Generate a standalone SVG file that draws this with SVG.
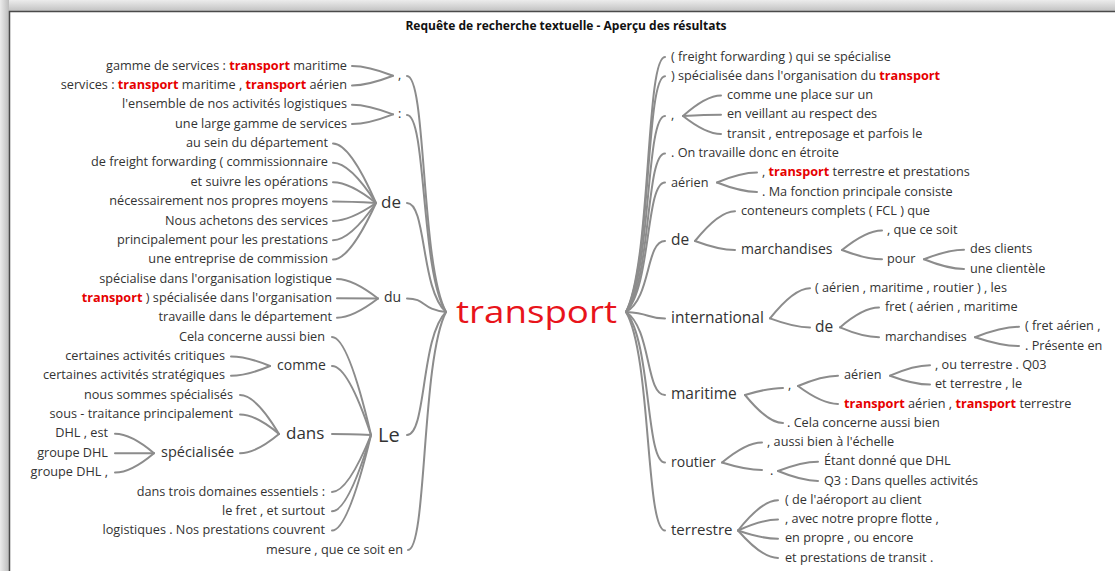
<svg xmlns="http://www.w3.org/2000/svg" width="1115" height="571" viewBox="0 0 1115 571">
<defs>
<linearGradient id="gTop" x1="0" y1="0" x2="0" y2="1"><stop offset="0" stop-color="#ececec"/><stop offset="1" stop-color="#c2c2c2"/></linearGradient>
<linearGradient id="gLeft" x1="0" y1="0" x2="1" y2="0"><stop offset="0" stop-color="#ececec"/><stop offset="1" stop-color="#bcbcbc"/></linearGradient>
<style>
text{font-family:"Open Sans","Liberation Sans",sans-serif;font-size:12.7px;fill:#333}
.l{text-anchor:end}
.hl{font-weight:700;fill:#e60000}
.title{font-weight:700;font-size:12px;fill:#111;text-anchor:middle}
.root{font-size:31px;fill:#e8141b}
.c path{fill:none;stroke:#8c8c8c;stroke-width:2;stroke-linecap:round}
</style>
</defs>
<rect width="1115" height="571" fill="#fff"/>
<rect x="0" y="0" width="1115" height="11" fill="url(#gTop)"/>
<rect x="0" y="0" width="9" height="571" fill="url(#gLeft)"/>
<path d="M9.5,571 V11.5 H1115" fill="none" stroke="#4a4a4a" stroke-width="1.5"/>
<text class="title" x="566" y="30">Requête de recherche textuelle - Aperçu des résultats</text>

<g id="connectors" class="c">
<path d="M352,66 Q368,66 393,75.7"/>
<path d="M352,85.4 Q368,85.4 393,75.7"/>
<path d="M352,104.7 Q368,104.7 393,114.4"/>
<path d="M352,124.1 Q368,124.1 393,114.4"/>
<path d="M333,143.4 Q350,143.4 376,203"/>
<path d="M333,162.8 Q350,162.8 376,203"/>
<path d="M333,182.2 Q350,182.2 376,203"/>
<path d="M333,201.5 Q350,201.5 376,203"/>
<path d="M333,220.9 Q350,220.9 376,203"/>
<path d="M333,240.2 Q350,240.2 376,203"/>
<path d="M333,259.6 Q350,259.6 376,203"/>
<path d="M337,279 Q353,279 378,298.5"/>
<path d="M337,298.3 Q353,298.3 378,298.5"/>
<path d="M337,317.7 Q353,317.7 378,298.5"/>
<path d="M231,356.4 Q247,356.4 270,366"/>
<path d="M231,375.8 Q247,375.8 270,366"/>
<path d="M115,433.8 Q131,433.8 154,453.2"/>
<path d="M115,453.2 Q131,453.2 154,453.2"/>
<path d="M115,472.6 Q131,472.6 154,453.2"/>
<path d="M240,395.1 Q256,395.1 279,434"/>
<path d="M240,414.5 Q256,414.5 279,434"/>
<path d="M240,453.2 Q256,453.2 279,434"/>
<path d="M332,337 Q348,337 371,435"/>
<path d="M332,366 Q348,366 371,435"/>
<path d="M332,434 Q348,434 371,435"/>
<path d="M332,491.9 Q348,491.9 371,435"/>
<path d="M332,511.3 Q348,511.3 371,435"/>
<path d="M332,530.6 Q348,530.6 371,435"/>
<path d="M407,76 C426.5,76 420.7,264.8 446,312"/>
<path d="M407,115 C426.5,115 420.7,272.6 446,312"/>
<path d="M407,203 C426.5,203 420.7,290.2 446,312"/>
<path d="M407,298.5 C426.5,298.5 420.7,309.3 446,312"/>
<path d="M407,435 C426.5,435 420.7,336.6 446,312"/>
<path d="M408,550 C427,550 421.3,359.6 446,312"/>
<path d="M665,57 C645.5,57 651.4,261 626,312"/>
<path d="M665,76.3 C645.5,76.3 651.4,264.9 626,312"/>
<path d="M665,116 C645.5,116 651.4,272.8 626,312"/>
<path d="M665,153.4 C645.5,153.4 651.4,280.3 626,312"/>
<path d="M665,182.5 C645.5,182.5 651.4,286 626,312"/>
<path d="M665,241 C645.5,241 651.4,297.8 626,312"/>
<path d="M665,318.4 C645.5,318.4 651.4,313.2 626,312"/>
<path d="M665,395 C645.5,395 651.4,328.6 626,312"/>
<path d="M665,462.5 C645.5,462.5 651.4,342 626,312"/>
<path d="M665,530.5 C645.5,530.5 651.4,355.6 626,312"/>
<path d="M683,116 Q706,95.5 721,95.5"/>
<path d="M683,116 Q706,114.8 721,114.8"/>
<path d="M683,116 Q706,134.1 721,134.1"/>
<path d="M717,182.5 Q741,172.6 757,172.6"/>
<path d="M717,182.5 Q741,191.9 757,191.9"/>
<path d="M695,241 Q719,211.2 735,211.2"/>
<path d="M695,241 Q719,250 735,250"/>
<path d="M842,250 Q866,230.4 882,230.4"/>
<path d="M842,250 Q866,259.3 882,259.3"/>
<path d="M924,259.3 Q948,249.7 964,249.7"/>
<path d="M924,259.3 Q948,269 964,269"/>
<path d="M770,318.4 Q794,288.2 810,288.2"/>
<path d="M770,318.4 Q794,327.4 810,327.4"/>
<path d="M840,327.4 Q863,307.5 879,307.5"/>
<path d="M840,327.4 Q863,337.2 879,337.2"/>
<path d="M975,337.2 Q1002,326.8 1019,326.8"/>
<path d="M975,337.2 Q1002,346.1 1019,346.1"/>
<path d="M745,395 Q768,388 783,388"/>
<path d="M745,395 Q768,423.1 783,423.1"/>
<path d="M798,386 Q822,375.7 838,375.7"/>
<path d="M798,386 Q822,403.9 838,403.9"/>
<path d="M890,375.7 Q914,365.3 930,365.3"/>
<path d="M890,375.7 Q914,384.6 930,384.6"/>
<path d="M722,462.5 Q746,442.4 762,442.4"/>
<path d="M722,462.5 Q746,470 762,470"/>
<path d="M778,471 Q802,461.7 818,461.7"/>
<path d="M778,471 Q802,480.9 818,480.9"/>
<path d="M738,530.5 Q762,500.2 778,500.2"/>
<path d="M738,530.5 Q762,519.5 778,519.5"/>
<path d="M738,530.5 Q762,538.8 778,538.8"/>
<path d="M738,530.5 Q762,558 778,558"/>
</g>

<g id="root"><text class="root" x="456" y="322.5" textLength="161" lengthAdjust="spacingAndGlyphs">transport</text></g>

<g id="n-l-comma"><text x="398" y="79">,</text></g>
<g id="n-l-colon"><text x="398" y="118.3">:</text></g>
<g id="n-l-de"><text x="381" y="208" style="font-size:17px">de</text></g>
<g id="n-l-du"><text x="384" y="302" style="font-size:14px">du</text></g>
<g id="n-l-comme"><text x="277" y="369.5" style="font-size:14px">comme</text></g>
<g id="n-l-dans"><text x="286" y="439.3" style="font-size:17px">dans</text></g>
<g id="n-l-specialisee"><text x="161" y="457.3" style="font-size:14.5px">spécialisée</text></g>
<g id="n-l-le"><text x="378" y="441.7" style="font-size:20px">Le</text></g>

<g id="l0"><text class="l" x="347" y="69.6">gamme de services : <tspan class="hl">transport</tspan> maritime</text></g>
<g id="l1"><text class="l" x="347" y="89">services : <tspan class="hl">transport</tspan> maritime , <tspan class="hl">transport</tspan> aérien</text></g>
<g id="l2"><text class="l" x="347" y="108.3">l'ensemble de nos activités logistiques</text></g>
<g id="l3"><text class="l" x="347" y="127.7">une large gamme de services</text></g>
<g id="l4"><text class="l" x="328" y="147">au sein du département</text></g>
<g id="l5"><text class="l" x="328" y="166.4">de freight forwarding ( commissionnaire</text></g>
<g id="l6"><text class="l" x="328" y="185.8">et suivre les opérations</text></g>
<g id="l7"><text class="l" x="328" y="205.1">nécessairement nos propres moyens</text></g>
<g id="l8"><text class="l" x="328" y="224.5">Nous achetons des services</text></g>
<g id="l9"><text class="l" x="328" y="243.8">principalement pour les prestations</text></g>
<g id="l10"><text class="l" x="328" y="263.2">une entreprise de commission</text></g>
<g id="l11"><text class="l" x="332" y="282.6">spécialise dans l'organisation logistique</text></g>
<g id="l12"><text class="l" x="332" y="301.9"><tspan class="hl">transport</tspan> ) spécialisée dans l'organisation</text></g>
<g id="l13"><text class="l" x="332" y="321.3">travaille dans le département</text></g>
<g id="l14"><text class="l" x="325" y="340.6">Cela concerne aussi bien</text></g>
<g id="l15"><text class="l" x="225" y="360">certaines activités critiques</text></g>
<g id="l16"><text class="l" x="225" y="379.4">certaines activités stratégiques</text></g>
<g id="l17"><text class="l" x="233" y="398.7">nous sommes spécialisés</text></g>
<g id="l18"><text class="l" x="233" y="418.1">sous - traitance principalement</text></g>
<g id="l19"><text class="l" x="108" y="437.4">DHL , est</text></g>
<g id="l20"><text class="l" x="108" y="456.8">groupe DHL</text></g>
<g id="l21"><text class="l" x="108" y="476.2">groupe DHL ,</text></g>
<g id="l22"><text class="l" x="325" y="495.5">dans trois domaines essentiels :</text></g>
<g id="l23"><text class="l" x="325" y="514.9">le fret , et surtout</text></g>
<g id="l24"><text class="l" x="325" y="534.2">logistiques . Nos prestations couvrent</text></g>
<g id="l25"><text class="l" x="403" y="553.6">mesure , que ce soit en</text></g>

<g id="n-r-comma"><text x="671" y="119">,</text></g>
<g id="n-r-aerien"><text x="671" y="186.7">aérien</text></g>
<g id="n-r-de"><text x="671" y="245" style="font-size:15.5px">de</text></g>
<g id="n-r-marchandises"><text x="741" y="254" style="font-size:14px">marchandises</text></g>
<g id="n-r-pour"><text x="887" y="262.7">pour</text></g>
<g id="n-r-international"><text x="671" y="322.7" style="font-size:15.5px">international</text></g>
<g id="n-r-de2"><text x="815" y="331.7" style="font-size:15.5px">de</text></g>
<g id="n-r-marchandises2"><text x="885" y="341" style="font-size:12.5px">marchandises</text></g>
<g id="n-r-maritime"><text x="671" y="399.3" style="font-size:15.5px">maritime</text></g>
<g id="n-r-comma2"><text x="788" y="389.3">,</text></g>
<g id="n-r-aerien2"><text x="844" y="379.3">aérien</text></g>
<g id="n-r-routier"><text x="671" y="466.7" style="font-size:14px">routier</text></g>
<g id="n-r-dot"><text x="770" y="475">.</text></g>
<g id="n-r-terrestre"><text x="671" y="535" style="font-size:15px">terrestre</text></g>

<g id="r0"><text x="671" y="60.6">( freight forwarding ) qui se spécialise</text></g>
<g id="r1"><text x="671" y="79.9">) spécialisée dans l'organisation du <tspan class="hl">transport</tspan></text></g>
<g id="r2"><text x="727" y="99.1">comme une place sur un</text></g>
<g id="r3"><text x="727" y="118.4">en veillant au respect des</text></g>
<g id="r4"><text x="727" y="137.7">transit , entreposage et parfois le</text></g>
<g id="r5"><text x="671" y="157">. On travaille donc en étroite</text></g>
<g id="r6"><text x="762" y="176.2">, <tspan class="hl">transport</tspan> terrestre et prestations</text></g>
<g id="r7"><text x="762" y="195.5">. Ma fonction principale consiste</text></g>
<g id="r8"><text x="741" y="214.8">conteneurs complets ( FCL ) que</text></g>
<g id="r9"><text x="887" y="234">, que ce soit</text></g>
<g id="r10"><text x="970" y="253.3">des clients</text></g>
<g id="r11"><text x="970" y="272.6">une clientèle</text></g>
<g id="r12"><text x="815" y="291.8">( aérien , maritime , routier ) , les</text></g>
<g id="r13"><text x="885" y="311.1">fret ( aérien , maritime</text></g>
<g id="r14"><text x="1025" y="330.4">( fret aérien ,</text></g>
<g id="r15"><text x="1025" y="349.7">. Présente en</text></g>
<g id="r16"><text x="935" y="368.9">, ou terrestre . Q03</text></g>
<g id="r17"><text x="935" y="388.2">et terrestre , le</text></g>
<g id="r18"><text x="844" y="407.5"><tspan class="hl">transport</tspan> aérien , <tspan class="hl">transport</tspan> terrestre</text></g>
<g id="r19"><text x="787" y="426.7">. Cela concerne aussi bien</text></g>
<g id="r20"><text x="767" y="446">, aussi bien à l'échelle</text></g>
<g id="r21"><text x="824" y="465.3">Étant donné que DHL</text></g>
<g id="r22"><text x="824" y="484.5">Q3 : Dans quelles activités</text></g>
<g id="r23"><text x="785" y="503.8">( de l'aéroport au client</text></g>
<g id="r24"><text x="785" y="523.1">, avec notre propre flotte ,</text></g>
<g id="r25"><text x="785" y="542.4">en propre , ou encore</text></g>
<g id="r26"><text x="785" y="561.6">et prestations de transit .</text></g>
</svg>
